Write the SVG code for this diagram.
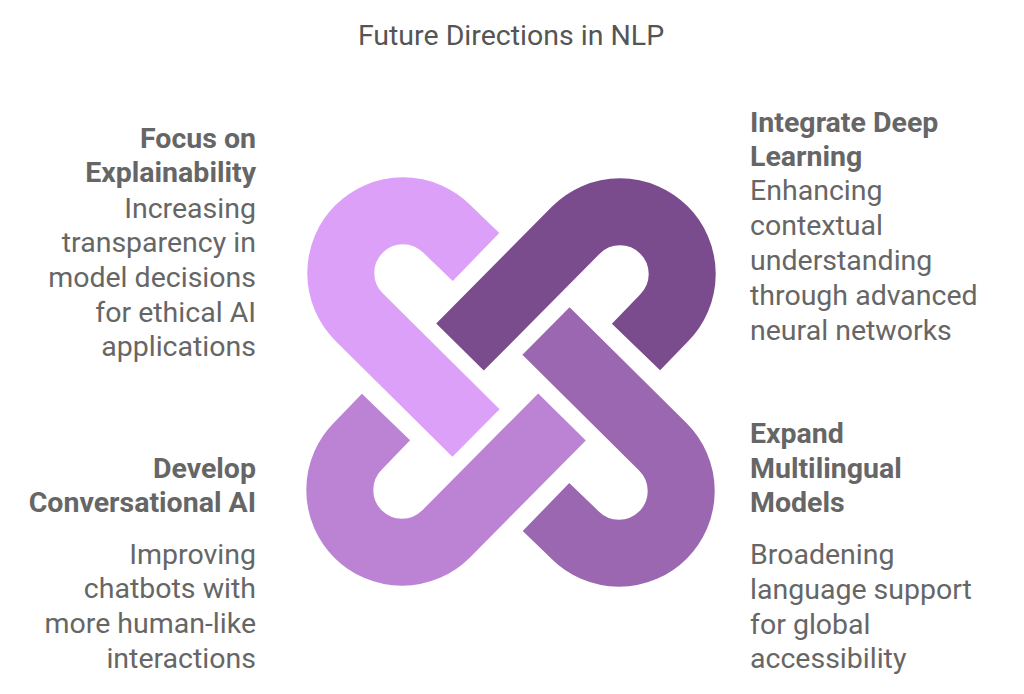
<svg xmlns="http://www.w3.org/2000/svg" width="1024" height="694" viewBox="0 0 1024 694">
<style>
text{font-family:Roboto,"Liberation Sans",sans-serif;fill:#666;font-size:28.5px}
.h{font-weight:bold}
.t{font-size:28.5px;fill:#555}
.r{text-anchor:end}
.b{fill:none;stroke-width:67;stroke-linecap:butt;stroke-linejoin:round}
</style>
<defs><path id="band" d="M476,257 L447,229 A62,62 0 0 0 359,317 L476,433"/></defs>
<rect width="1024" height="694" fill="#fff"/>
<text class="t" x="511" y="45" text-anchor="middle">Future Directions in NLP</text>
<g id="connectors">
<g id="band-explain"><use href="#band" class="b" stroke="#DCA0F9"/></g>
<g id="band-deep"><use href="#band" class="b" stroke="#7A4B8D" transform="rotate(90 511 382)"/></g>
<g id="band-multi"><use href="#band" class="b" stroke="#9C67B1" transform="rotate(180 511 382)"/></g>
<g id="band-conv"><use href="#band" class="b" stroke="#BC83D5" transform="rotate(270 511 382)"/></g>
</g>
<g id="node-explain">
<text class="h r" x="256" y="148">Focus on</text>
<text class="h r" x="256" y="182">Explainability</text>
<text class="r" x="256" y="218">Increasing</text>
<text class="r" x="256" y="252">transparency in</text>
<text class="r" x="256" y="287">model decisions</text>
<text class="r" x="256" y="322">for ethical AI</text>
<text class="r" x="256" y="356">applications</text>
</g>
<g id="node-conv">
<text class="h r" x="256" y="478">Develop</text>
<text class="h r" x="256" y="512">Conversational AI</text>
<text class="r" x="256" y="564">Improving</text>
<text class="r" x="256" y="598">chatbots with</text>
<text class="r" x="256" y="633">more human-like</text>
<text class="r" x="256" y="668">interactions</text>
</g>
<g id="node-deep">
<text class="h" x="750" y="132">Integrate Deep</text>
<text class="h" x="750" y="166">Learning</text>
<text x="750" y="200">Enhancing</text>
<text x="750" y="235">contextual</text>
<text x="750" y="270">understanding</text>
<text x="750" y="305">through advanced</text>
<text x="750" y="340">neural networks</text>
</g>
<g id="node-multi">
<text class="h" x="750" y="443">Expand</text>
<text class="h" x="750" y="478">Multilingual</text>
<text class="h" x="750" y="512">Models</text>
<text x="750" y="564">Broadening</text>
<text x="750" y="599">language support</text>
<text x="750" y="634">for global</text>
<text x="750" y="668">accessibility</text>
</g>
</svg>
